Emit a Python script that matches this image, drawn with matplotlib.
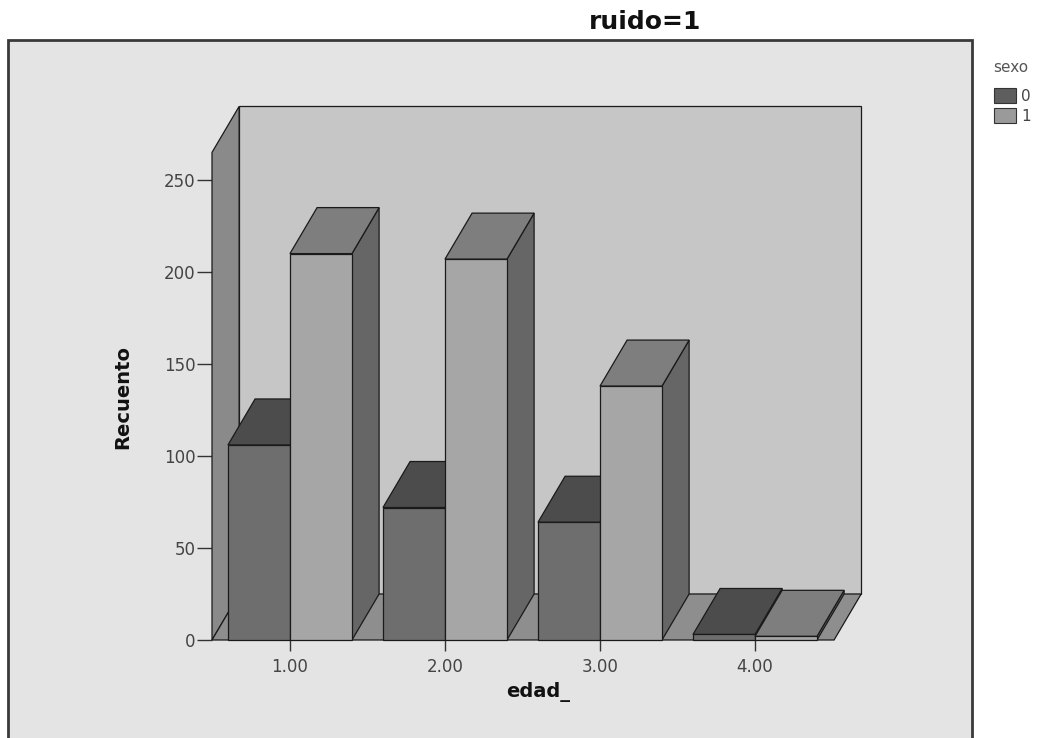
import matplotlib
matplotlib.use("Agg")
import matplotlib.pyplot as plt
from matplotlib.patches import Polygon, Rectangle

# ---- data ----
categories = ["1.00", "2.00", "3.00", "4.00"]
cat_pos = [1, 2, 3, 4]
series_names = ["0", "1"]
sexo0 = [106, 72, 64, 3]
sexo1 = [210, 207, 138, 2]
yticks = [0, 50, 100, 150, 200, 250]
title = "ruido=1"
xlabel = "edad_"
ylabel = "Recuento"

W, H = 1047, 738
fig = plt.figure(figsize=(W / 100, H / 100), dpi=100)
fig.patch.set_facecolor("white")

# outer frame
fig.patches.append(Rectangle((8 / W, -0.01), (972 - 8) / W, (738 - 40) / H + 0.01,
                             transform=fig.transFigure, facecolor="#e4e4e4",
                             edgecolor="#3a3a3a", lw=2, zorder=-5))

ax = fig.add_axes([212 / W, (H - 640) / H, 654.6 / W, 533.6 / H])
ax.set_xlim(0.497, 4.72)
ax.set_ylim(0, 290)
ax.patch.set_visible(False)
for s in ax.spines.values():
    s.set_visible(False)

dx, dy = 0.175, 25.0       # depth offset (data units)
x_left, x_right = 0.497, 4.51
wall_h = 265

def poly(pts, fc, z, ec="#1a1a1a", lw=0.9):
    ax.add_patch(Polygon(pts, closed=True, facecolor=fc, edgecolor=ec, lw=lw,
                         zorder=z, clip_on=False))

# back wall
poly([(x_left + dx, dy), (x_right + dx, dy), (x_right + dx, wall_h + dy),
      (x_left + dx, wall_h + dy)], "#c6c6c6", 1)
# left wall
poly([(x_left, 0), (x_left + dx, dy), (x_left + dx, wall_h + dy), (x_left, wall_h)],
     "#8a8a8a", 2)
# floor
poly([(x_left, 0), (x_right, 0), (x_right + dx, dy), (x_left + dx, dy)], "#8e8e8e", 2)

bw = 0.4
colors = {
    0: dict(front="#6e6e6e", top="#4c4c4c", side="#5a5a5a"),
    1: dict(front="#a6a6a6", top="#7e7e7e", side="#666666"),
}
z = 3
for i, c in enumerate(cat_pos):
    for k, vals in enumerate([sexo0, sexo1]):
        v = vals[i]
        x0 = c - bw + k * bw
        x1 = x0 + bw
        col = colors[k]
        poly([(x1, 0), (x1 + dx, dy), (x1 + dx, v + dy), (x1, v)], col["side"], z)
        poly([(x0, v), (x1, v), (x1 + dx, v + dy), (x0 + dx, v + dy)], col["top"], z)
        poly([(x0, 0), (x1, 0), (x1, v), (x0, v)], col["front"], z)
        z += 1

ax.set_yticks(yticks)
ax.set_yticklabels([str(t) for t in yticks])
ax.set_xticks(cat_pos)
ax.set_xticklabels(categories)
ax.tick_params(axis="y", direction="out", length=11, width=1, pad=1,
               labelsize=12, labelcolor="#444444", color="#333333")
ax.tick_params(axis="x", direction="out", length=8, width=1, pad=5,
               labelsize=12, labelcolor="#444444", color="#333333")

fig.text(645 / W, 1 - 29 / H, title, ha="center", va="baseline",
         fontsize=18, fontweight="bold", color="#111111")
fig.text(123 / W, 1 - 397 / H, ylabel, ha="center", va="center", rotation=90,
         fontsize=14, fontweight="bold", color="#111111")
fig.text(538 / W, 1 - 697 / H, xlabel, ha="center", va="baseline",
         fontsize=14, fontweight="bold", color="#111111")

# legend
fig.text(993 / W, 1 - 72 / H, "sexo", ha="left", va="baseline", fontsize=11,
         color="#555555")
leg_cols = ["#5e5e5e", "#9a9a9a"]
for j, name in enumerate(series_names):
    ytop = 88 + j * 20
    fig.patches.append(Rectangle((994 / W, 1 - (ytop + 15) / H), 22 / W, 15 / H,
                                 transform=fig.transFigure, facecolor=leg_cols[j],
                                 edgecolor="#333333", lw=0.8))
    fig.text(1021 / W, 1 - (ytop + 13) / H, name, ha="left", va="baseline",
             fontsize=11, color="#444444")

fig.savefig("out.png", dpi=100)
